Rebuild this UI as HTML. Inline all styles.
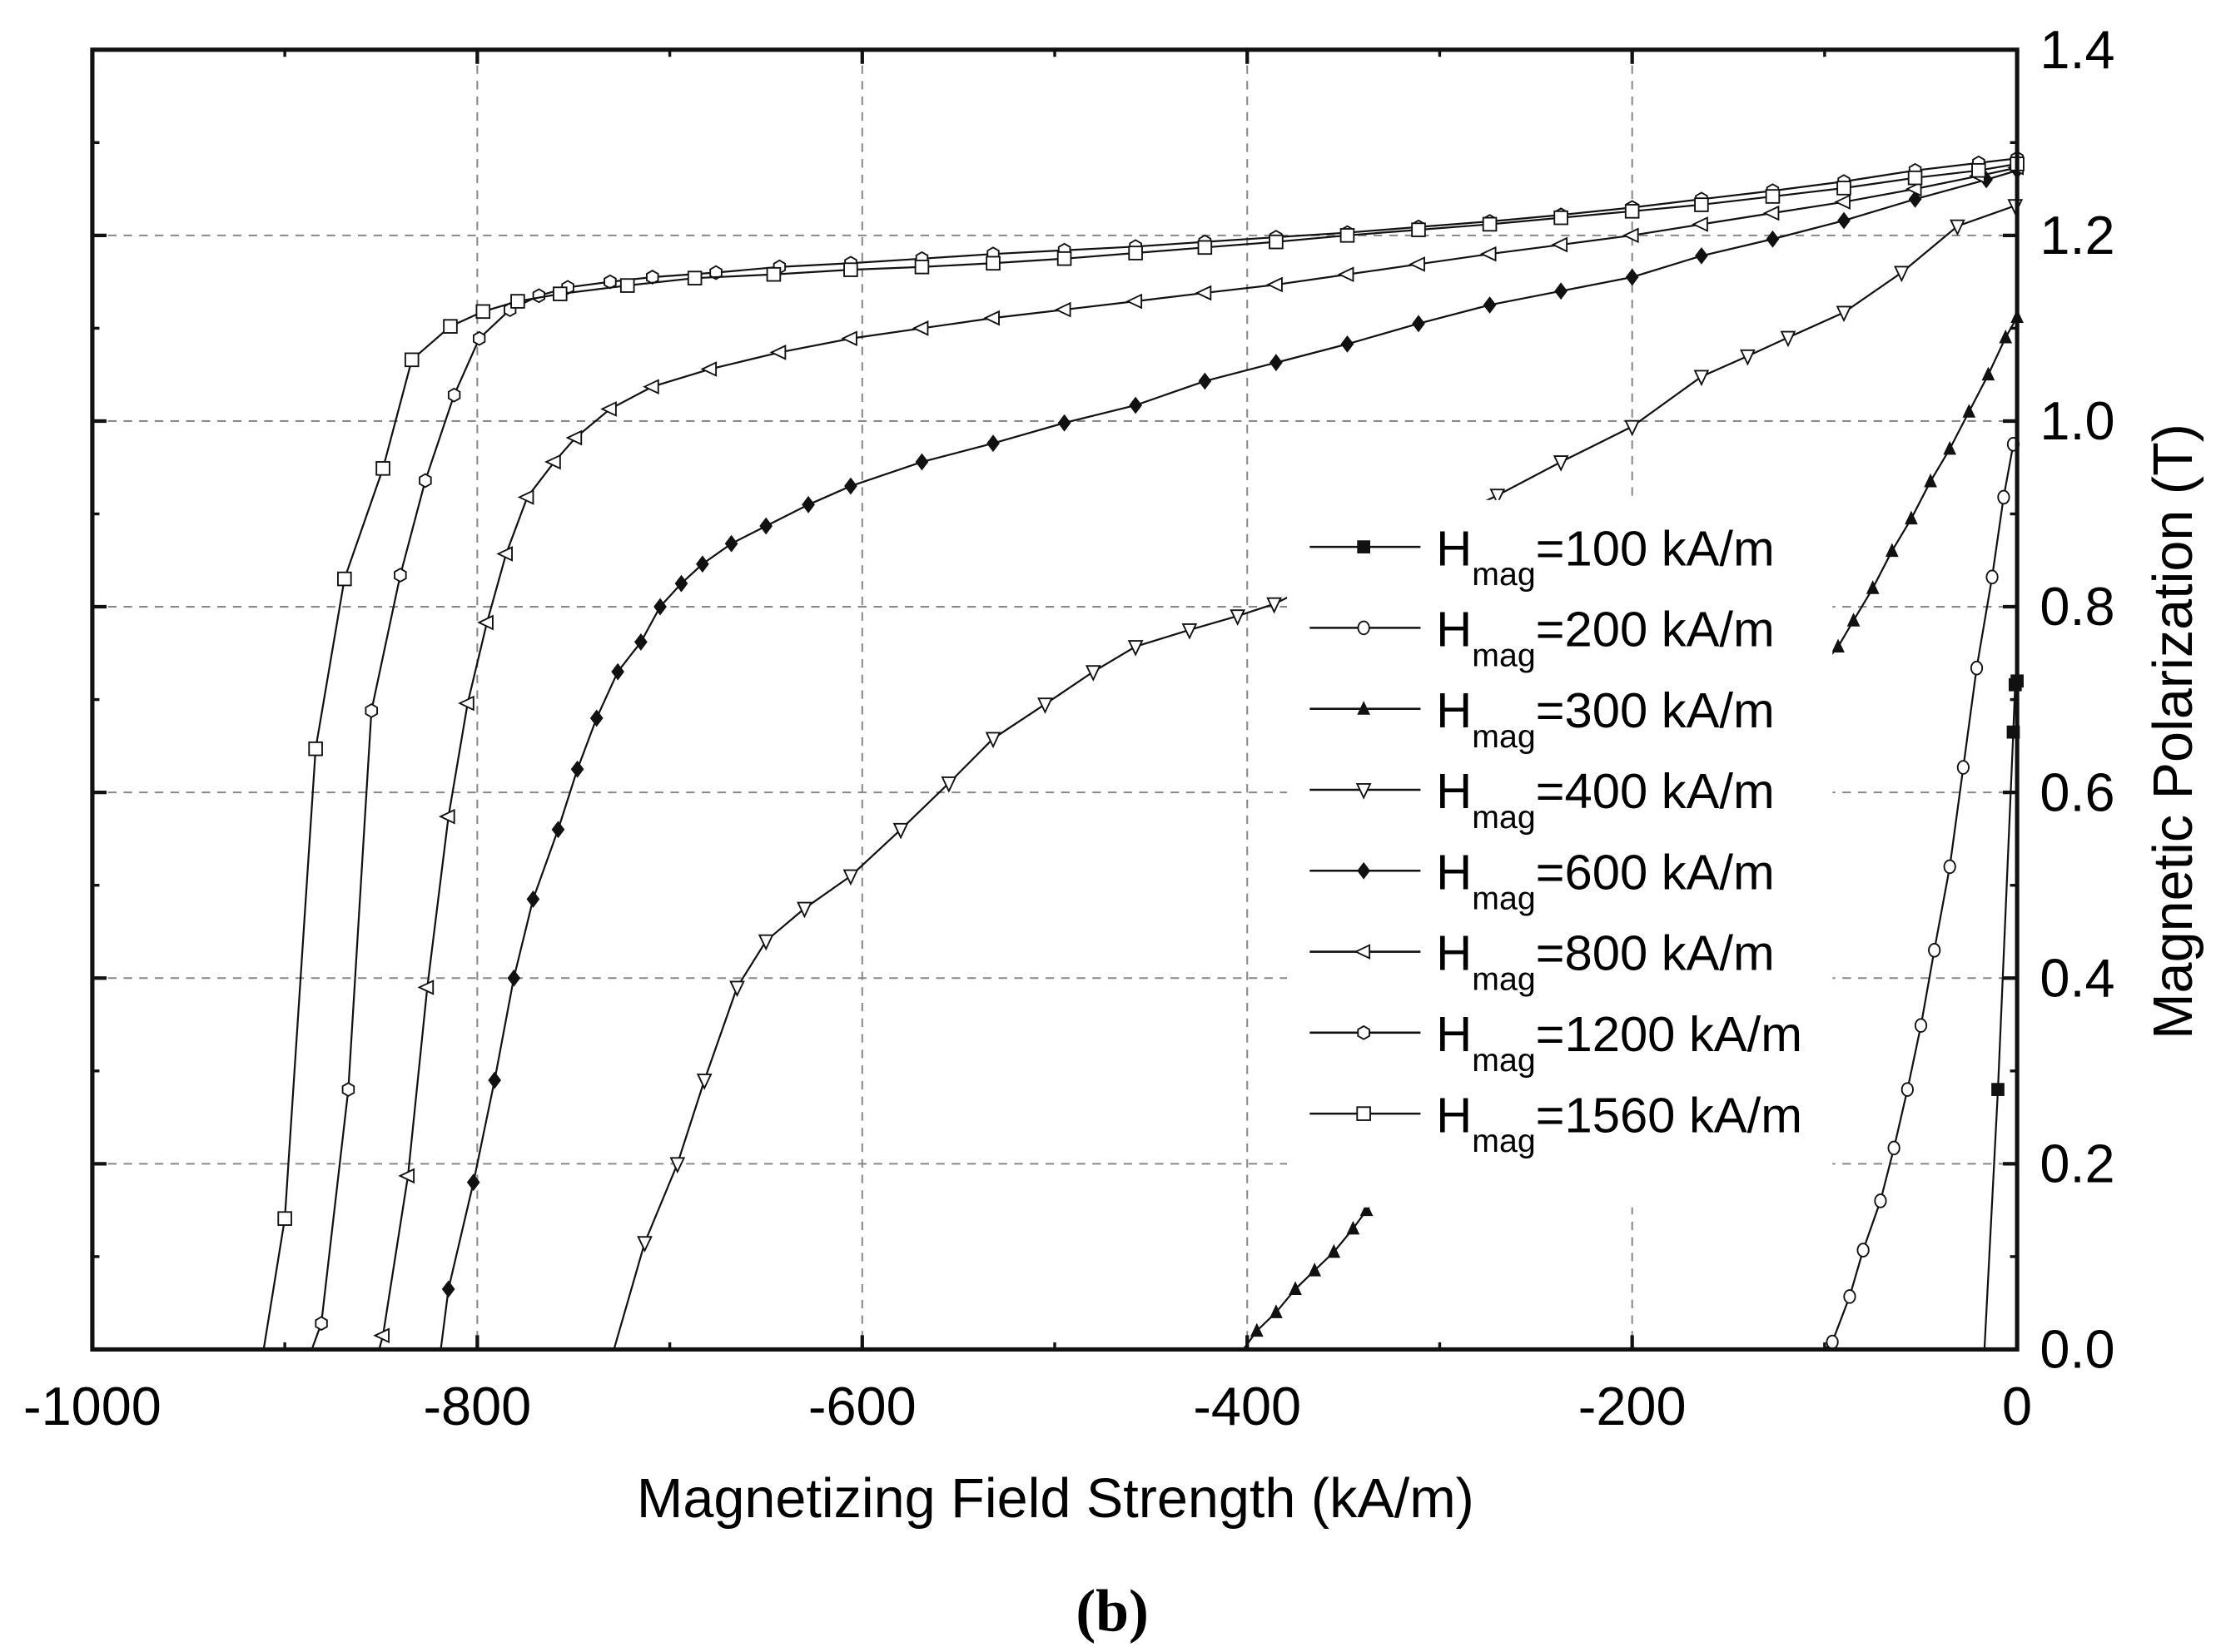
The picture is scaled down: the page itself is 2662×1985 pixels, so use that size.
<!DOCTYPE html>
<html><head><meta charset="utf-8"><style>html,body{margin:0;padding:0;background:#fff;}svg{display:block;}</style></head>
<body>
<svg id="chart" width="2662" height="1985" viewBox="0 0 1560 1163" preserveAspectRatio="none" xmlns="http://www.w3.org/2000/svg" font-family="'Liberation Sans', Arial, sans-serif">
<rect width="1560" height="1163" fill="#fff"/>
<g id="grid"></g>
<g id="series"></g>
<g id="legend"></g>
<g id="axes"></g>
<text x="743" y="1068" font-size="39" text-anchor="middle">Magnetizing Field Strength (kA/m)</text>
<text transform="translate(1543,515) rotate(-90)" font-size="39" text-anchor="middle">Magnetic Polarization (T)</text>
<text x="783" y="1148" font-size="42" font-weight="bold" text-anchor="middle" font-family="'Liberation Serif', serif">(b)</text>
</svg>
<script>
const xTicks = [-1000, -800, -600, -400, -200, 0];
const yTicks = [0.0, 0.2, 0.4, 0.6, 0.8, 1.0, 1.2, 1.4];
const seriesNames = ["100", "200", "300", "400", "600", "800", "1200", "1560"];
const seriesMarkers = ["filledSquare", "circle", "filledTriangle", "downTriangle", "filledDiamond", "leftTriangle", "hexagon", "square"];
const s100H = [-17, -10, -2, -1, 0];
const s100J = [0, 0.28, 0.665, 0.716, 0.72];
const s200H = [-100, -96, -87, -80, -71, -64, -57, -50, -43, -35, -28, -21, -13, -7, -2];
const s200J = [0, 0.008, 0.057, 0.107, 0.16, 0.217, 0.28, 0.349, 0.43, 0.52, 0.627, 0.734, 0.832, 0.918, 0.975];
const s300H = [-402, -395, -385, -375, -365, -355, -345, -338, -93, -85, -75, -65, -55, -45, -35, -25, -15, -6, 0];
const s300J = [0, 0.02, 0.04, 0.065, 0.085, 0.105, 0.13, 0.15, 0.757, 0.785, 0.82, 0.86, 0.895, 0.935, 0.97, 1.01, 1.05, 1.09, 1.112];
const s400H = [-729, -713, -696, -682, -665, -650, -630, -606, -580, -555, -532, -505, -480, -458, -430, -405, -386, -320, -270, -237, -200, -164, -140, -119, -90, -60, -31, -1];
const s400J = [0, 0.115, 0.2, 0.29, 0.39, 0.44, 0.475, 0.51, 0.56, 0.61, 0.658, 0.695, 0.73, 0.757, 0.775, 0.79, 0.803, 0.87, 0.92, 0.956, 0.994, 1.048, 1.07, 1.09, 1.117, 1.16, 1.21, 1.232];
const s600H = [-819, -815, -802, -791, -781, -771, -758, -748, -738, -727, -715, -705, -694, -683, -668, -650, -628, -606, -569, -532, -495, -458, -422, -385, -348, -311, -274, -237, -200, -164, -127, -90, -53, -16, 0];
const s600J = [0, 0.065, 0.18, 0.29, 0.4, 0.485, 0.56, 0.625, 0.68, 0.73, 0.762, 0.8, 0.825, 0.846, 0.868, 0.887, 0.91, 0.93, 0.956, 0.976, 0.998, 1.017, 1.043, 1.063, 1.083, 1.105, 1.125, 1.14, 1.155, 1.178, 1.196, 1.216, 1.239, 1.26, 1.27];
const s800H = [-851, -849, -836, -826, -815, -805, -795, -785, -774, -760, -749, -731, -709, -679, -643, -606, -569, -532, -495, -458, -422, -385, -348, -311, -274, -237, -200, -164, -127, -90, -53, -20, 0];
const s800J = [0, 0.015, 0.187, 0.39, 0.574, 0.696, 0.783, 0.857, 0.918, 0.956, 0.982, 1.013, 1.037, 1.056, 1.074, 1.089, 1.1, 1.111, 1.12, 1.129, 1.138, 1.147, 1.158, 1.169, 1.18, 1.19, 1.2, 1.212, 1.224, 1.236, 1.25, 1.264, 1.273];
const s1200H = [-886, -881, -867, -855, -840, -827, -812, -799, -783, -768, -753, -731, -709, -676, -643, -606, -569, -532, -495, -458, -422, -385, -348, -311, -274, -237, -200, -164, -127, -90, -53, -20, 0];
const s1200J = [0, 0.028, 0.28, 0.688, 0.834, 0.936, 1.028, 1.089, 1.12, 1.135, 1.144, 1.15, 1.155, 1.16, 1.166, 1.17, 1.175, 1.18, 1.184, 1.188, 1.193, 1.198, 1.203, 1.209, 1.215, 1.222, 1.23, 1.239, 1.248, 1.258, 1.27, 1.278, 1.283];
const s1560H = [-911, -900, -884, -869, -849, -834, -814, -797, -779, -757, -722, -687, -646, -606, -569, -532, -495, -458, -422, -385, -348, -311, -274, -237, -200, -164, -127, -90, -53, -20, 0];
const s1560J = [0, 0.141, 0.647, 0.83, 0.949, 1.066, 1.102, 1.118, 1.129, 1.137, 1.146, 1.154, 1.158, 1.163, 1.166, 1.17, 1.175, 1.181, 1.187, 1.193, 1.2, 1.206, 1.212, 1.219, 1.226, 1.233, 1.242, 1.251, 1.262, 1.27, 1.277];

const NS = "http://www.w3.org/2000/svg";
const X0 = 65, X1 = 1420, Y0 = 950, Y1 = 35;
function xs(v){ return X0 + (v + 1000) / 1000 * (X1 - X0); }
function ys(v){ return Y0 - v / 1.4 * (Y0 - Y1); }
function mk(tag, attrs, parent){ const e = document.createElementNS(NS, tag); for (const k in attrs) e.setAttribute(k, attrs[k]); parent.appendChild(e); return e; }

const grid = document.getElementById('grid');
xTicks.forEach(t => {
  if (t === -1000 || t === 0) return;
  const l = mk('line', {x1: xs(t), x2: xs(t), y1: Y1, y2: Y0, stroke: '#888', 'stroke-width': 1.2, 'stroke-dasharray': '6,5'}, grid);
  
  
});
yTicks.forEach(t => {
  if (t === 0 || t === 1.4) return;
  const l = mk('line', {x1: X0, x2: X1, y1: ys(t), y2: ys(t), stroke: '#888', 'stroke-width': 1.2, 'stroke-dasharray': '6,5'}, grid);
  
  
});

function marker(type, cx, cy, parent){
  const r = 4.6;
  let e;
  if (type === 'filledSquare') e = mk('rect', {x: cx - r, y: cy - r, width: 2*r, height: 2*r, fill: '#111'}, parent);
  else if (type === 'square') e = mk('rect', {x: cx - r, y: cy - r, width: 2*r, height: 2*r, fill: '#fff', stroke: '#111', 'stroke-width': 1.1}, parent);
  else if (type === 'circle') e = mk('ellipse', {cx: cx, cy: cy, rx: r*0.85, ry: r, fill: '#fff', stroke: '#111', 'stroke-width': 1.1}, parent);
  else if (type === 'filledTriangle') e = mk('polygon', {points: `${cx},${cy-r-1} ${cx+r},${cy+r-0.5} ${cx-r},${cy+r-0.5}`, fill: '#111'}, parent);
  else if (type === 'downTriangle') e = mk('polygon', {points: `${cx-r},${cy-r+0.5} ${cx+r},${cy-r+0.5} ${cx},${cy+r+1}`, fill: '#fff', stroke: '#111', 'stroke-width': 1.1}, parent);
  else if (type === 'filledDiamond') e = mk('polygon', {points: `${cx},${cy-r-1.5} ${cx+r},${cy} ${cx},${cy+r+1.5} ${cx-r},${cy}`, fill: '#111'}, parent);
  else if (type === 'leftTriangle') e = mk('polygon', {points: `${cx-r-1},${cy} ${cx+r-0.5},${cy-r} ${cx+r-0.5},${cy+r}`, fill: '#fff', stroke: '#111', 'stroke-width': 1.1}, parent);
  else if (type === 'hexagon') { let p = []; for (let i = 0; i < 6; i++){ const a = Math.PI/6 + i*Math.PI/3; p.push((cx + r*Math.cos(a)).toFixed(1) + ',' + (cy + r*Math.sin(a)).toFixed(1)); } e = mk('polygon', {points: p.join(' '), fill: '#fff', stroke: '#111', 'stroke-width': 1.1}, parent); }
  return e;
}

const seriesH = [s100H, s200H, s300H, s400H, s600H, s800H, s1200H, s1560H];
const seriesJ = [s100J, s200J, s300J, s400J, s600J, s800J, s1200J, s1560J];
const sg = document.getElementById('series');
seriesH.forEach((H, i) => {
  const g = mk('g', {}, sg);
  
  
  const J = seriesJ[i];
  const pts = H.map((h, k) => xs(h).toFixed(1) + ',' + ys(J[k]).toFixed(1)).join(' ');
  const pl = mk('polyline', {points: pts, fill: 'none', stroke: '#111', 'stroke-width': 1.3}, g);
  
  
  H.forEach((h, k) => {
    if (J[k] === 0) return;
    const m = marker(seriesMarkers[i], xs(h), ys(J[k]), g);
    
    
  });
});

const lg = document.getElementById('legend');
const bg = mk('rect', {x: 906, y: 352, width: 384, height: 498, fill: '#fff'}, lg);


seriesNames.forEach((n, i) => {
  const y = 385 + i * 57;
  const g = mk('g', {}, lg);
  
  
  mk('line', {x1: 922, x2: 1000, y1: y, y2: y, stroke: '#111', 'stroke-width': 1.5}, g);
  marker(seriesMarkers[i], 960, y, g);
  const t = mk('text', {x: 1011, y: y + 13, 'font-size': 35}, g);
  t.innerHTML = 'H<tspan font-size="23" dy="14">mag</tspan><tspan dy="-14">=' + n + ' kA/m</tspan>';
  
  
});

const ax = document.getElementById('axes');
const frame = mk('rect', {x: X0, y: Y1, width: X1 - X0, height: Y0 - Y1, fill: 'none', stroke: '#111', 'stroke-width': 3}, ax);


xTicks.forEach((t, i) => {
  const x = xs(t);
  mk('line', {x1: x, x2: x, y1: Y0, y2: Y0 - 10, stroke: '#111', 'stroke-width': 2.5}, ax);
  mk('line', {x1: x, x2: x, y1: Y1, y2: Y1 + 10, stroke: '#111', 'stroke-width': 2.5}, ax);
  if (i < xTicks.length - 1) {
    const xm = xs(t + 100);
    mk('line', {x1: xm, x2: xm, y1: Y0, y2: Y0 - 5, stroke: '#111', 'stroke-width': 2}, ax);
    mk('line', {x1: xm, x2: xm, y1: Y1, y2: Y1 + 5, stroke: '#111', 'stroke-width': 2}, ax);
  }
  const lb = mk('text', {x: x, y: 1003, 'font-size': 38, 'text-anchor': 'middle'}, ax);
  lb.textContent = String(t);
  
  
});
yTicks.forEach((t, i) => {
  const y = ys(t);
  mk('line', {x1: X1, x2: X1 - 10, y1: y, y2: y, stroke: '#111', 'stroke-width': 2.5}, ax);
  mk('line', {x1: X0, x2: X0 + 10, y1: y, y2: y, stroke: '#111', 'stroke-width': 2.5}, ax);
  if (i < yTicks.length - 1) {
    const ym = ys(t + 0.1);
    mk('line', {x1: X1, x2: X1 - 5, y1: ym, y2: ym, stroke: '#111', 'stroke-width': 2}, ax);
    mk('line', {x1: X0, x2: X0 + 5, y1: ym, y2: ym, stroke: '#111', 'stroke-width': 2}, ax);
  }
  const lb = mk('text', {x: 1436, y: y + 13, 'font-size': 38}, ax);
  lb.textContent = t.toFixed(1);
  
  
});
</script>
</body></html>
